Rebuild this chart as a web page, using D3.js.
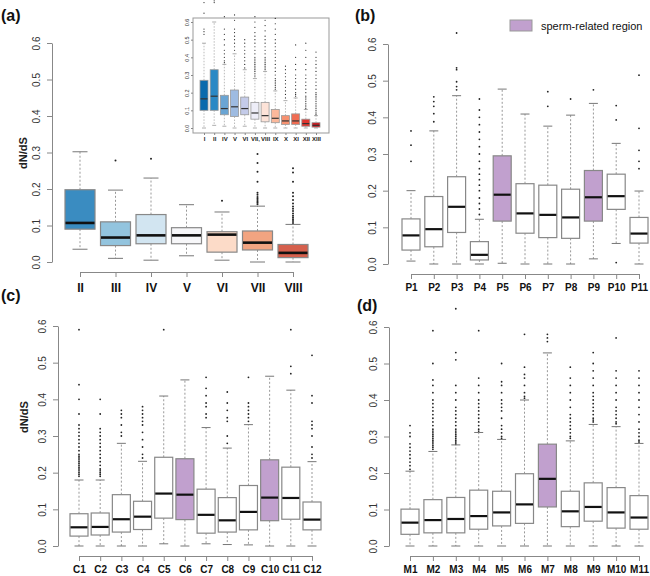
<!DOCTYPE html>
<html><head><meta charset="utf-8">
<script src="https://cdn.jsdelivr.net/npm/d3@7"></script>
<style>
html,body{margin:0;padding:0;background:#fff;}
svg{display:block;font-family:"Liberation Sans",Arial,Helvetica,sans-serif;}
</style></head>
<body>
<svg id="chart" width="650" height="576"></svg>
<script>
// ---------- Panel (a): main ----------
const aCats = ["II","III","IV","V","VI","VII","VIII"];
// [lowWhisker, Q1, median, Q3, highWhisker]
const aStats = [
  [0.035,0.090,0.107,0.198,0.302],
  [0.010,0.045,0.067,0.110,0.197],
  [0.005,0.050,0.073,0.130,0.230],
  [0.017,0.050,0.073,0.094,0.157],
  [0.005,0.027,0.075,0.083,0.137],
  [0.000,0.033,0.053,0.085,0.153],
  [0.000,0.012,0.025,0.048,0.103]
];
const aOutliers = [
  [],
  [0.278],
  [0.283],
  [],
  [0.168],
  [0.158,0.162,0.166,0.170,0.174,0.178,0.184,0.19,0.22,0.247,0.271,0.296],
  [0.107,0.112,0.117,0.122,0.127,0.133,0.14,0.146,0.152,0.16,0.17,0.18,0.19,0.22,0.245,0.257]
];
const aColors = ["#3a8cc1","#93c4de","#d2e5f1","#f7f7f9","#fcdbc8","#f2a481","#d6604d"];

// ---------- Panel (a): inset ----------
const insetCats = ["I","II","IV","V","VI","VII,","VIII","IX","X","XI","XII","XIII"];
const insetStats = [
  [0.000,0.100,0.165,0.270,0.480],
  [0.015,0.100,0.180,0.330,0.600],
  [0.010,0.075,0.110,0.185,0.360],
  [0.000,0.065,0.120,0.215,0.420],
  [0.010,0.075,0.110,0.175,0.330],
  [0.000,0.050,0.085,0.145,0.280],
  [0.000,0.035,0.070,0.145,0.320],
  [0.000,0.030,0.055,0.105,0.210],
  [0.000,0.020,0.040,0.070,0.155],
  [0.000,0.020,0.040,0.080,0.170],
  [0.000,0.010,0.025,0.050,0.105],
  [0.000,0.005,0.015,0.030,0.070]
];
const insetOutliers = [
  [0.53,0.545,0.56,0.65,0.71],
  [0.71,0.72],
  [0.37,0.38,0.40,0.42,0.44,0.47,0.50,0.53,0.56,0.63],
  [0.44,0.46,0.48,0.50,0.52,0.54,0.56,0.61,0.64],
  [0.34,0.36,0.38,0.40,0.42,0.44,0.46,0.48,0.50],
  [0.29,0.30,0.31,0.32,0.33,0.34,0.35,0.36,0.37,0.38,0.39,0.40,0.42,0.44,0.46,0.48,0.50,0.52,0.54,0.57,0.60,0.63],
  [0.33,0.34,0.35,0.36,0.37,0.38,0.39,0.40,0.42,0.44,0.46,0.48,0.50,0.52,0.55,0.58,0.61],
  [0.22,0.23,0.24,0.25,0.26,0.27,0.28,0.30,0.32,0.34,0.36,0.38,0.40,0.42,0.44,0.46,0.48,0.50,0.53,0.56,0.59,0.62],
  [0.17,0.19,0.21,0.23,0.25,0.27,0.29,0.31,0.33,0.35],
  [0.18,0.19,0.20,0.22,0.24,0.26,0.28,0.30,0.33,0.36,0.40,0.47],
  [0.11,0.12,0.13,0.14,0.15,0.16,0.17,0.18,0.20,0.22,0.24,0.26,0.28,0.30,0.33,0.36,0.40,0.44,0.48],
  [0.075,0.08,0.09,0.10,0.11,0.12,0.13,0.14,0.15,0.16,0.17,0.18,0.19,0.20,0.22,0.24,0.26,0.28,0.30,0.32,0.34,0.36,0.38,0.40,0.43]
];
const insetColors = ["#0a6aad","#2a89c5","#6aa5d4","#9ebbe1","#c4cbe9","#eeeef8","#fde3d8","#fbb89b","#f79271","#f06c52","#e0352f","#c9191e"];

// ---------- Panel (b) ----------
const bCats = ["P1","P2","P3","P4","P5","P6","P7","P8","P9","P10","P11"];
const bStats = [
  [0.008,0.038,0.078,0.123,0.200],
  [0.000,0.047,0.095,0.184,0.363],
  [0.000,0.086,0.156,0.238,0.459],
  [0.000,0.011,0.025,0.061,0.122],
  [0.002,0.117,0.189,0.295,0.477],
  [0.000,0.084,0.138,0.219,0.409],
  [0.000,0.072,0.134,0.215,0.376],
  [0.000,0.070,0.127,0.204,0.406],
  [0.014,0.117,0.182,0.255,0.438],
  [0.056,0.149,0.185,0.245,0.329],
  [0.000,0.057,0.083,0.127,0.199]
];
const bOutliers = [
  [0.28,0.324,0.363],
  [0.388,0.41,0.43,0.443,0.456],
  [0.475,0.484,0.497,0.53,0.535,0.63],
  [0.135,0.15,0.165,0.18,0.2,0.215,0.23,0.245,0.26,0.28,0.3,0.32,0.34,0.36,0.38,0.4,0.42,0.45],
  [],
  [],
  [0.43,0.47,0.63],
  [0.45],
  [0.475],
  [0.004,0.393,0.432],
  [0.26,0.28,0.31,0.37,0.515]
];
const bSperm = [false,false,false,false,true,false,false,false,true,false,false];

// ---------- Panel (c) ----------
const cCats = ["C1","C2","C3","C4","C5","C6","C7","C8","C9","C10","C11","C12"];
const cStats = [
  [0.000,0.027,0.051,0.088,0.180],
  [0.000,0.030,0.052,0.090,0.180],
  [0.000,0.038,0.073,0.140,0.280],
  [0.000,0.045,0.080,0.122,0.231],
  [0.006,0.076,0.143,0.242,0.409],
  [0.000,0.072,0.140,0.238,0.453],
  [0.006,0.035,0.085,0.155,0.323],
  [0.004,0.038,0.070,0.132,0.267],
  [0.003,0.044,0.093,0.165,0.331],
  [0.000,0.069,0.132,0.235,0.463],
  [0.000,0.073,0.131,0.215,0.425],
  [0.000,0.044,0.072,0.120,0.230]
];
const cOutliers = [
  [0.19,0.195,0.2,0.205,0.21,0.215,0.22,0.225,0.23,0.235,0.24,0.245,0.25,0.26,0.27,0.28,0.29,0.3,0.31,0.32,0.33,0.36,0.4,0.44,0.59],
  [0.19,0.195,0.2,0.205,0.21,0.22,0.23,0.24,0.25,0.26,0.27,0.28,0.29,0.3,0.31,0.32,0.36,0.4],
  [0.3,0.31,0.33,0.35,0.36,0.37],
  [0.24,0.25,0.27,0.29,0.31,0.33,0.34,0.35,0.36,0.37,0.38],
  [0.59],
  [],
  [0.35,0.36,0.38,0.39,0.41,0.43,0.46],
  [0.28,0.3,0.34,0.35,0.37,0.39,0.42],
  [0.34,0.35,0.36,0.37,0.38,0.39,0.46],
  [],
  [0.47,0.49,0.59],
  [0.24,0.25,0.27,0.3,0.32,0.33,0.34,0.39,0.41,0.52]
];
const cSperm = [false,false,false,false,false,true,false,false,false,true,false,false];

// ---------- Panel (d) ----------
const dCats = ["M1","M2","M3","M4","M5","M6","M7","M8","M9","M10","M11"];
const dStats = [
  [0.000,0.032,0.064,0.101,0.205],
  [0.000,0.036,0.071,0.127,0.259],
  [0.000,0.036,0.074,0.133,0.277],
  [0.000,0.046,0.082,0.153,0.311],
  [0.000,0.055,0.092,0.150,0.292],
  [0.000,0.062,0.114,0.198,0.400],
  [0.000,0.107,0.184,0.279,0.529],
  [0.000,0.053,0.095,0.150,0.288],
  [0.000,0.068,0.107,0.173,0.333],
  [0.000,0.049,0.092,0.160,0.327],
  [0.000,0.046,0.078,0.138,0.281]
];
const dOutliers = [
  [0.21,0.22,0.23,0.24,0.25,0.26,0.27,0.28,0.3,0.31,0.33],
  [0.265,0.27,0.275,0.28,0.285,0.29,0.295,0.3,0.305,0.31,0.315,0.32,0.33,0.34,0.35,0.36,0.37,0.38,0.39,0.4,0.42,0.44,0.455,0.5,0.59],
  [0.28,0.285,0.29,0.295,0.3,0.305,0.31,0.315,0.32,0.33,0.34,0.35,0.36,0.37,0.38,0.4,0.42,0.44,0.51,0.53,0.65],
  [0.315,0.32,0.33,0.34,0.35,0.36,0.37,0.38,0.39,0.4,0.42,0.44,0.46,0.59],
  [0.295,0.3,0.31,0.32,0.33,0.35,0.37,0.38,0.39,0.4,0.42,0.44,0.45,0.5],
  [0.405,0.41,0.42,0.44,0.46,0.47,0.49,0.58],
  [0.56,0.57,0.58],
  [0.295,0.3,0.31,0.32,0.33,0.34,0.35,0.36,0.38,0.4,0.42,0.44,0.46,0.49],
  [0.34,0.345,0.35,0.36,0.37,0.38,0.39,0.4,0.41,0.42,0.44,0.46,0.48,0.5,0.53],
  [0.335,0.34,0.35,0.36,0.37,0.38,0.4,0.42,0.44,0.46,0.48,0.57],
  [0.285,0.29,0.3,0.31,0.32,0.34,0.36,0.38,0.4,0.42,0.44,0.46,0.48]
];
const dSperm = [false,false,false,false,false,false,true,false,false,false,false];

const yTicks = [0,0.1,0.2,0.3,0.4,0.5,0.6];
const spermColor = "#c1a0ce";
const legendLabel = "sperm-related region";

// ---------- drawing ----------
const svg = d3.select("#chart");
const axisColor = "#888";

function boxplot(g, o) {
  const x = d3.scalePoint().domain(o.cats).range(o.xr);
  const y = d3.scaleLinear().domain([0, 0.6]).range(o.yr);
  const bw = o.bw;
  o.cats.forEach((c, i) => {
    const s = o.stats[i];
    const cx = x(c);
    const grp = g.append("g");
    grp.append("line").attr("x1", cx).attr("x2", cx).attr("y1", y(s[3])).attr("y2", y(s[4]))
      .attr("stroke", o.whiskColor || "#999").attr("stroke-width", o.whiskW || 1).attr("stroke-dasharray", o.dash || "2,2");
    grp.append("line").attr("x1", cx).attr("x2", cx).attr("y1", y(s[1])).attr("y2", y(s[0]))
      .attr("stroke", o.whiskColor || "#999").attr("stroke-width", o.whiskW || 1).attr("stroke-dasharray", o.dash || "2,2");
    [s[0], s[4]].forEach(v => {
      grp.append("line").attr("x1", cx - bw / 4).attr("x2", cx + bw / 4).attr("y1", y(v)).attr("y2", y(v))
        .attr("stroke", o.capColor || "#777").attr("stroke-width", o.whiskW || 1);
    });
    grp.append("rect").attr("x", cx - bw / 2).attr("width", bw)
      .attr("y", y(s[3])).attr("height", y(s[1]) - y(s[3]))
      .attr("fill", o.fill(i)).attr("stroke", o.boxStroke || "#888").attr("stroke-width", o.boxW || 1.2);
    grp.append("line").attr("x1", cx - bw / 2 + 0.5).attr("x2", cx + bw / 2 - 0.5)
      .attr("y1", y(s[2])).attr("y2", y(s[2]))
      .attr("stroke", o.medColor || "#111").attr("stroke-width", o.medW || 2.5);
    grp.selectAll("circle.o").data(o.outliers[i]).join("circle").attr("class", "o")
      .attr("cx", cx).attr("cy", d => y(d)).attr("r", o.ptR || 0.9).attr("fill", "#222");
  });
  return { x, y };
}

function axes(g, sc, o) {
  const ya = g.append("g").attr("transform", `translate(${o.axisX},0)`)
    .call(d3.axisLeft(sc.y).tickValues(yTicks).tickSize(o.tick || 5).tickSizeOuter(0).tickFormat(d3.format(".1f")));
  ya.attr("font-family", null);
  ya.select(".domain").attr("stroke", axisColor);
  ya.selectAll(".tick line").attr("stroke", axisColor);
  ya.selectAll(".tick text").attr("transform", "rotate(-90)").attr("x", 0).attr("y", -(o.ylOff || 12)).attr("dy", 0)
    .attr("text-anchor", "middle").attr("fill", "#333").style("font-size", (o.yfs || 10) + "px");

  const xa = g.append("g").attr("transform", `translate(0,${o.axisY})`)
    .call(d3.axisBottom(sc.x).tickSize(o.tick || 5).tickSizeOuter(0).tickPadding(o.pad));
  xa.attr("font-family", null);
  xa.select(".domain").attr("stroke", axisColor);
  xa.selectAll(".tick line").attr("stroke", axisColor);
  xa.selectAll(".tick text").attr("fill", "#111").style("font-size", o.xfs + "px").style("font-weight", "bold");
}

function panelLabel(txt, x, y) {
  svg.append("text").attr("x", x).attr("y", y).text(txt)
    .style("font-size", "16px").style("font-weight", "bold").attr("fill", "#111");
}
function yLabel(x, y) {
  svg.append("text").attr("transform", `translate(${x},${y}) rotate(-90)`).attr("text-anchor", "middle")
    .text("dN/dS").style("font-size", "11px").style("font-weight", "bold").attr("fill", "#222");
}

// Panel (a)
{
  const g = svg.append("g");
  const sc = boxplot(g, { cats: aCats, stats: aStats, outliers: aOutliers, xr: [80, 293], yr: [262, 43], bw: 30,
    fill: i => aColors[i], medW: 2.6, ptR: 1 });
  axes(g, sc, { axisX: 52, axisY: 272, pad: 6, xfs: 12, ylOff: 12 });
  panelLabel("(a)", 1, 21);
  yLabel(27, 153);
}
// Inset
{
  const g = svg.append("g");
  g.append("rect").attr("x", 193).attr("y", 18).attr("width", 136).attr("height", 115)
    .attr("fill", "#fff").attr("stroke", "#999").attr("stroke-width", 1);
  const sc = boxplot(g, { cats: insetCats, stats: insetStats, outliers: insetOutliers, xr: [204, 316], yr: [128, 22], bw: 8,
    fill: i => insetColors[i], medW: 1.2, medColor: "#333", boxW: 0.8, boxStroke: "#999", whiskColor: "#aaa", capColor: "#999",
    whiskW: 0.8, dash: "1.5,1.5", ptR: 0.6 });
  const ya = g.append("g").attr("transform", "translate(193,0)")
    .call(d3.axisLeft(sc.y).tickValues(yTicks).tickSize(2).tickSizeOuter(0).tickFormat(d3.format(".1f")));
  ya.attr("font-family", null);
  ya.select(".domain").remove();
  ya.selectAll(".tick line").attr("stroke", axisColor);
  ya.selectAll(".tick text").attr("transform", "rotate(-90)").attr("x", 0).attr("y", -4).attr("dy", 0)
    .attr("text-anchor", "middle").attr("fill", "#333").style("font-size", "5.5px");
  const xa = g.append("g").attr("transform", "translate(0,133)")
    .call(d3.axisBottom(sc.x).tickSize(2).tickSizeOuter(0).tickPadding(2));
  xa.attr("font-family", null);
  xa.select(".domain").remove();
  xa.selectAll(".tick line").attr("stroke", axisColor);
  xa.selectAll(".tick text").attr("fill", "#222").style("font-size", "6px").style("font-weight", "bold");
}
// Panel (b)
{
  const g = svg.append("g");
  const sc = boxplot(g, { cats: bCats, stats: bStats, outliers: bOutliers, xr: [411, 639], yr: [264, 44], bw: 18,
    fill: i => bSperm[i] ? spermColor : "#fff", medW: 2.2 });
  axes(g, sc, { axisX: 388, axisY: 274, pad: 4.5, xfs: 10, ylOff: 12 });
  panelLabel("(b)", 355, 21);
  svg.append("rect").attr("x", 510).attr("y", 20).attr("width", 22).attr("height", 11)
    .attr("fill", spermColor).attr("stroke", "#999");
  svg.append("text").attr("x", 541).attr("y", 29.5).text(legendLabel).style("font-size", "11px").attr("fill", "#111");
}
// Panel (c)
{
  const g = svg.append("g");
  const sc = boxplot(g, { cats: cCats, stats: cStats, outliers: cOutliers, xr: [79, 312], yr: [546, 326], bw: 18,
    fill: i => cSperm[i] ? spermColor : "#fff", medW: 2.2 });
  axes(g, sc, { axisX: 58, axisY: 556, pad: 5, xfs: 10, ylOff: 12 });
  panelLabel("(c)", 1, 301);
  yLabel(28, 417);
}
// Panel (d)
{
  const g = svg.append("g");
  const sc = boxplot(g, { cats: dCats, stats: dStats, outliers: dOutliers, xr: [410, 639], yr: [546, 327], bw: 18,
    fill: i => dSperm[i] ? spermColor : "#fff", medW: 2.2 });
  axes(g, sc, { axisX: 389, axisY: 556, pad: 5, xfs: 10, ylOff: 12 });
  panelLabel("(d)", 357, 311);
}
</script>
</body></html>
